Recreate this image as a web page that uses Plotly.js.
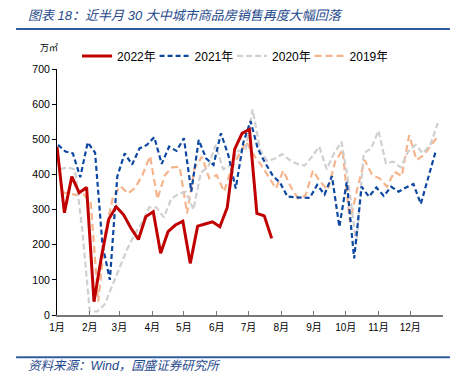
<!DOCTYPE html>
<html>
<head>
<meta charset="utf-8">
<script src="https://cdn.plot.ly/plotly-3.0.1.min.js"></script>
<style>html,body{margin:0;padding:0;background:#fff;}#chart{width:461px;height:385px;}</style>
</head>
<body>
<div id="chart"></div>
<script>
// Weekly sales, 30 major cities (万㎡)
const sales2022 = [479, 291, 394, 348, 363, 38, 166, 273, 308, 285, 247, 215, 280, 294, 176, 237, 256, 267, 147, 253, 259, 265, 251, 306, 472, 517, 528, 289, 282, 218];
const sales2021 = [484, 465, 460, 392, 491, 462, 200, 100, 394, 460, 428, 474, 484, 506, 430, 479, 467, 503, 351, 498, 446, 427, 517, 455, 360, 489, 552, 472, 432, 397, 376, 337, 335, 333, 333, 370, 343, 395, 251, 379, 161, 365, 337, 363, 339, 365, 351, 363, 373, 316, 389, 465];
const sales2020 = [415, 420, 414, 240, 10, 10, 30, 82, 137, 185, 228, 261, 306, 306, 278, 330, 345, 350, 300, 405, 422, 484, 415, 425, 467, 468, 585, 470, 438, 445, 458, 441, 430, 425, 450, 479, 415, 460, 493, 370, 200, 460, 474, 524, 432, 436, 420, 465, 484, 460, 484, 546];
const sales2019 = [350, 347, 342, 344, 318, 38, 240, 337, 367, 346, 362, 400, 452, 330, 398, 420, 422, 289, 417, 450, 389, 398, 351, 417, 457, 493, 455, 427, 394, 360, 411, 365, 332, 340, 411, 379, 356, 436, 470, 265, 360, 441, 398, 389, 365, 408, 395, 512, 441, 455, 484, 512];
// day-of-year of each year's first weekly observation (weeks end on Sunday)
const firstDay = {2022: 0, 2021: 1, 2020: 3, 2019: 4};
const monthStartDays = [0, 31, 59, 90, 120, 151, 181, 212, 243, 273, 304, 334, 365];
const monthLabels = ['1月','2月','3月','4月','5月','6月','7月','8月','9月','10月','11月','12月',''];

function days(year, arr) { return arr.map((_, i) => firstDay[year] + 7 * i); }

const traces = [
  {name: '2019年', y: sales2019, x: days(2019, sales2019), line: {color: '#F6B48C', width: 2.2, dash: '7px,4px'}},
  {name: '2020年', y: sales2020, x: days(2020, sales2020), line: {color: '#D0D0D0', width: 2.2, dash: '6px,3px'}},
  {name: '2021年', y: sales2021, x: days(2021, sales2021), line: {color: '#0D47A1', width: 2.2, dash: '5px,3px'}},
  {name: '2022年', y: sales2022, x: days(2022, sales2022), line: {color: '#C00000', width: 3}}
].map(t => Object.assign({type: 'scatter', mode: 'lines', hoverinfo: 'skip'}, t));

const F = '"Liberation Sans", Arial, "Noto Sans CJK SC", sans-serif';
const blue = '#1F4A8C';
const layout = {
  width: 461, height: 385,
  margin: {l: 57, r: 18, t: 69, b: 70},
  paper_bgcolor: '#fff', plot_bgcolor: '#fff',
  font: {family: F, color: '#000', size: 10},
  showlegend: true,
  legend: {orientation: 'h', traceorder: 'reversed', x: 0.052, xanchor: 'left', y: 1.053, yanchor: 'middle',
           font: {size: 12, family: F, color: '#000'}, bgcolor: 'rgba(0,0,0,0)', entrywidth: 32.5, itemwidth: 30},
  xaxis: {range: [0, 365], tickmode: 'array', tickvals: monthStartDays, ticktext: monthLabels,
          ticks: 'inside', ticklen: 4, tickcolor: '#777', showline: true, linecolor: '#777', linewidth: 1.5,
          showgrid: false, zeroline: false, tickfont: {size: 10, family: F}, ticklabelstandoff: 2, fixedrange: true},
  yaxis: {range: [0, 700], dtick: 100, ticks: 'outside', ticklen: 4, tickcolor: '#000', showline: true,
          linecolor: '#000', linewidth: 1, showgrid: false, zeroline: false, tickfont: {size: 10.5, family: F}, fixedrange: true},
  shapes: [
    {type: 'line', xref: 'paper', yref: 'paper', x0: -0.106, x1: 1.018, y0: 1.1626, y1: 1.1626, line: {color: '#2F5C9F', width: 2}},
    {type: 'line', xref: 'paper', yref: 'paper', x0: -0.106, x1: 1.018, y0: -0.172, y1: -0.172, line: {color: '#2F5C9F', width: 2}}
  ],
  annotations: [
    {text: '<i>图表 18：近半月 30 大中城市商品房销售再度大幅回落</i>', xref: 'paper', yref: 'paper', x: -0.0803, y: 1.2195,
     xanchor: 'left', yanchor: 'middle', showarrow: false, font: {size: 13, color: blue, family: F}},
    {text: '万㎡', xref: 'paper', yref: 'paper', x: -0.0207, y: 1.0854, xanchor: 'center', yanchor: 'middle',
     showarrow: false, font: {size: 9, color: '#000', family: F}},
    {text: '<i>资料来源：Wind，国盛证券研究所</i>', xref: 'paper', yref: 'paper', x: -0.0803, y: -0.2073,
     xanchor: 'left', yanchor: 'middle', showarrow: false, font: {size: 12.5, color: blue, family: F}}
  ]
};
Plotly.newPlot('chart', traces, layout, {displayModeBar: false, staticPlot: true});
</script>
</body>
</html>
